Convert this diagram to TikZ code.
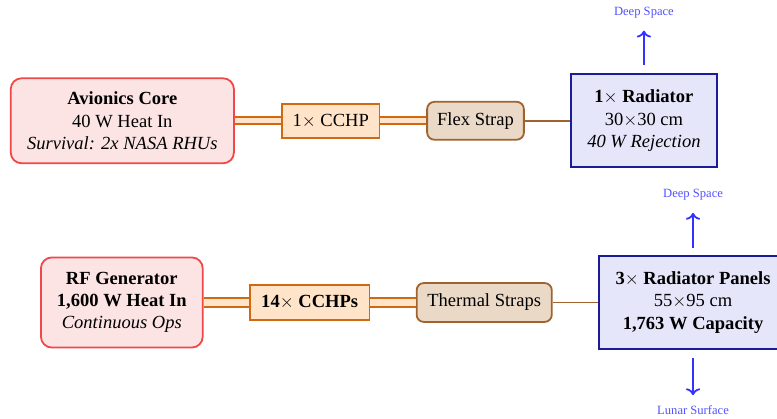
\documentclass[tikz,border=0pt]{standalone}
\usepackage{fontspec}
\setmainfont{Liberation Serif}
\usetikzlibrary{arrows.meta}

\definecolor{srcred}{HTML}{F04848}
\definecolor{srcfill}{HTML}{FDE4E4}
\definecolor{pipeorange}{HTML}{D06A12}
\definecolor{pipefill}{HTML}{FFE4CA}
\definecolor{strapbrown}{HTML}{A0632E}
\definecolor{strapfill}{HTML}{EAD9C6}
\definecolor{radblue}{HTML}{1C1C99}
\definecolor{radfill}{HTML}{E6E6FA}
\definecolor{sinkblue}{HTML}{3333FF}

\begin{document}
\fontsize{10.3}{12.4}\selectfont
\begin{tikzpicture}[
  source/.style={rectangle, rounded corners=6pt, draw=srcred, fill=srcfill, line width=1pt, align=center, inner sep=0pt},
  pipe/.style={rectangle, draw=pipeorange, fill=pipefill, line width=1pt, inner sep=0pt},
  strap/.style={rectangle, rounded corners=4pt, draw=strapbrown, fill=strapfill, line width=1pt, inner sep=0pt},
  radiator/.style={rectangle, draw=radblue, fill=radfill, line width=1.2pt, align=center, inner sep=0pt},
  hp/.style={draw=pipeorange, double=pipefill, line width=1.2pt, double distance=2.6pt},
  hpwide/.style={hp, double distance=4pt},
  link/.style={draw=strapbrown, line width=1pt},
  sink/.style={->, draw=sinkblue, line width=1pt},
  sinklabel/.style={font=\scriptsize, text=sinkblue!85, inner sep=1pt}
]
\useasboundingbox (0,0) rectangle (15.18,8.18);

% Top row: avionics loop
\node[source, minimum width=4.36cm, minimum height=1.66cm] (avionics) at (2.39,5.82)
  {\textbf{Avionics Core}\\40 W Heat In\\\textit{Survival: 2x NASA RHUs}};
\node[pipe, minimum width=1.91cm, minimum height=0.66cm] (cchp1) at (6.46,5.82) {1$\times$ CCHP};
\node[strap, minimum width=1.89cm, minimum height=0.74cm] (flex) at (9.29,5.82) {Flex Strap};
\node[radiator, minimum width=2.85cm, minimum height=1.82cm] (rad1) at (12.58,5.82)
  {\textbf{1$\times$ Radiator}\\30$\times$30 cm\\\textit{40 W Rejection}};
\node[sinklabel] (space1) at (12.58,7.93) {Deep Space};

% Bottom row: RF loop
\node[source, minimum width=3.16cm, minimum height=1.76cm] (rfgen) at (2.38,2.27)
  {\textbf{RF Generator}\\\textbf{1,600 W Heat In}\\\textit{Continuous Ops}};
\node[pipe, minimum width=2.34cm, minimum height=0.68cm, font=\bfseries] (cchp14) at (6.05,2.27) {14$\times$ CCHPs};
\node[strap, minimum width=2.64cm, minimum height=0.76cm] (thermal) at (9.46,2.27) {Thermal Straps};
\node[radiator, minimum width=3.67cm, minimum height=1.82cm] (rad3) at (13.54,2.27)
  {\textbf{3$\times$ Radiator Panels}\\55$\times$95 cm\\\textbf{1,763 W Capacity}};
\node[sinklabel] (space2) at (13.54,4.37) {Deep Space};
\node[sinklabel] (lunar) at (13.54,0.17) {Lunar Surface};

% Heat pipes and straps
\draw[hp] (avionics) -- (cchp1);
\draw[hp] (cchp1) -- (flex);
\draw[link] (flex) -- (rad1);
\draw[hpwide] (rfgen) -- (cchp14);
\draw[hpwide] (cchp14) -- (thermal);
\draw[link] (thermal) -- (rad3);

% Rejection to the environment
\draw[sink, shorten <=0.16cm, shorten >=0.2cm] (rad1.north) -- (space1.south);
\draw[sink, shorten <=0.14cm, shorten >=0.2cm] (rad3.north) -- (space2.south);
\draw[sink, shorten <=0.16cm, shorten >=0.16cm] (rad3.south) -- (lunar.north);
\end{tikzpicture}
\end{document}
